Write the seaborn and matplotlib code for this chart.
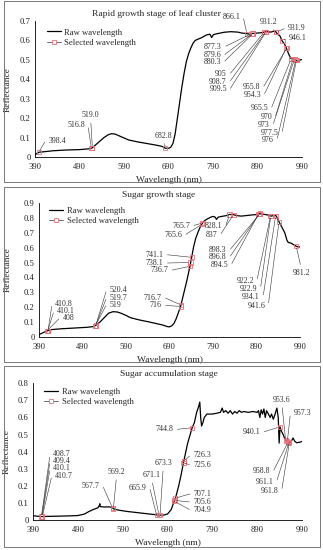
import numpy as np
import pandas as pd
import matplotlib
matplotlib.use("Agg")
import matplotlib.pyplot as plt
import seaborn as sns
from matplotlib.lines import Line2D
from matplotlib.patches import Rectangle

# ---- data: panel 1 (rapid growth stage of leaf cluster) ----
wl1 = [390, 395, 400, 410, 430, 460, 490, 510, 517, 519, 525, 535, 545, 555, 562, 570,
       580, 590, 600, 620, 640, 660, 675, 683, 690, 695, 700, 705, 710, 715, 720, 725,
       730, 735, 740, 745, 750, 755, 765, 775, 783, 787, 791, 800, 815, 830, 845, 855,
       866, 872, 877, 880, 890, 900, 905, 910, 920, 926, 931, 936, 940, 946, 950, 955,
       960, 965, 970, 975, 978, 982, 986, 990]
refl1 = [0.01, 0.02, 0.025, 0.027, 0.032, 0.036, 0.038, 0.042, 0.045, 0.048, 0.06, 0.08,
         0.1, 0.115, 0.12, 0.118, 0.108, 0.098, 0.088, 0.078, 0.07, 0.062, 0.055, 0.045,
         0.045, 0.05, 0.07, 0.12, 0.2, 0.28, 0.36, 0.43, 0.49, 0.53, 0.56, 0.585, 0.6,
         0.605, 0.615, 0.628, 0.632, 0.615, 0.63, 0.635, 0.642, 0.645, 0.643, 0.638,
         0.635, 0.632, 0.636, 0.636, 0.638, 0.64, 0.643, 0.645, 0.643, 0.647, 0.645,
         0.63, 0.625, 0.595, 0.585, 0.56, 0.53, 0.507, 0.505, 0.5, 0.497, 0.49, 0.5, 0.502]
lab1 = ["398.4", "516.8", "519.0", "682.8", "866.1", "877.3", "879.6", "880.3", "905",
        "908.7", "909.5", "931.2", "931.9", "946.1", "955.8", "954.3", "965.5", "970",
        "973", "977.5", "976"]
sel_wl1 = [398.4, 516.8, 519.0, 682.8, 866.1, 877.3, 879.6, 880.3, 905, 908.7, 909.5,
           931.2, 931.9, 946.1, 955.8, 954.3, 965.5, 970, 973, 977.5, 976]
sel_refl1 = [0.025, 0.045, 0.048, 0.045, 0.635, 0.636, 0.636, 0.636, 0.643, 0.645, 0.645,
             0.645, 0.643, 0.595, 0.56, 0.56, 0.505, 0.505, 0.503, 0.498, 0.5]

# ---- data: panel 2 (sugar growth stage) ----
wl2 = [390, 400, 408, 411, 420, 440, 470, 500, 515, 520, 530, 540, 550, 560, 570, 580,
       590, 600, 620, 640, 660, 675, 685, 690, 695, 700, 705, 710, 716, 720, 725, 730,
       737, 741, 745, 750, 755, 760, 765.7, 770, 775, 785, 790, 795, 798, 802, 810, 820,
       828, 837, 845, 855, 865, 880, 890, 897, 905, 915, 923, 930, 935, 942, 948, 955,
       960, 963, 970, 975, 981, 985, 990]
refl2 = [0.016, 0.03, 0.04, 0.043, 0.05, 0.055, 0.06, 0.065, 0.07, 0.077, 0.1, 0.13, 0.16,
         0.17, 0.168, 0.158, 0.145, 0.13, 0.115, 0.103, 0.09, 0.08, 0.07, 0.068, 0.075,
         0.09, 0.12, 0.16, 0.21, 0.26, 0.32, 0.38, 0.475, 0.535, 0.6, 0.66, 0.7, 0.735,
         0.765, 0.78, 0.79, 0.805, 0.81, 0.805, 0.79, 0.805, 0.81, 0.815, 0.823, 0.822,
         0.815, 0.812, 0.815, 0.82, 0.822, 0.828, 0.825, 0.82, 0.812, 0.815, 0.815, 0.772,
         0.74, 0.7, 0.65, 0.635, 0.63, 0.62, 0.61, 0.605, 0.605]
lab2 = ["408", "410.1", "410.8", "519", "519.7", "520.4", "716", "716.7", "736.7", "738.1",
        "741.1", "765.6", "765.7", "828.1", "837", "894.5", "896.8", "898.3", "922.2",
        "922.9", "934.1", "941.6", "981.2"]
sel_wl2 = [408, 410.1, 410.8, 519, 519.7, 520.4, 716, 716.7, 736.7, 738.1, 741.1, 765.6,
           765.7, 828.1, 837, 894.5, 896.8, 898.3, 922.2, 922.9, 934.1, 941.6, 981.2]
sel_refl2 = [0.04, 0.042, 0.043, 0.073, 0.075, 0.077, 0.205, 0.215, 0.475, 0.5, 0.535,
             0.758, 0.765, 0.823, 0.822, 0.826, 0.828, 0.829, 0.812, 0.812, 0.815, 0.772,
             0.61]

# ---- data: panel 3 (sugar accumulation stage) ----
wl3 = [390, 400, 410, 420, 440, 470, 490, 505, 515, 525, 535, 538, 539, 540, 550, 560,
       567, 570, 580, 600, 620, 640, 660, 670, 680, 690, 698, 705, 708, 715, 720, 726,
       735, 745, 750, 755, 759, 762, 764, 766, 769, 772, 778, 790, 800, 808, 812, 815,
       820, 825, 830, 835, 840, 845, 850, 855, 860, 870, 880, 890, 893, 896, 899, 902,
       905, 908, 911, 915, 919, 922, 926, 930, 934, 937, 939, 941, 944, 948, 953, 957,
       960, 963, 967, 970, 974, 978, 985, 990]
refl3 = [0.025, 0.022, 0.02, 0.021, 0.022, 0.024, 0.026, 0.035, 0.05, 0.062, 0.072, 0.085,
         0.095, 0.078, 0.076, 0.077, 0.072, 0.065, 0.058, 0.05, 0.044, 0.038, 0.032, 0.028,
         0.028, 0.035, 0.06, 0.11, 0.13, 0.2, 0.26, 0.34, 0.45, 0.54, 0.57, 0.63, 0.66,
         0.69, 0.6, 0.55, 0.57, 0.6, 0.62, 0.62, 0.625, 0.63, 0.655, 0.63, 0.64, 0.625,
         0.64, 0.62, 0.635, 0.625, 0.64, 0.63, 0.635, 0.63, 0.635, 0.63, 0.64, 0.6, 0.645,
         0.62, 0.65, 0.6, 0.64, 0.62, 0.6, 0.62, 0.59, 0.62, 0.655, 0.6, 0.45, 0.545, 0.52,
         0.5, 0.465, 0.46, 0.455, 0.45, 0.465, 0.48, 0.46, 0.452, 0.455, 0.46]
lab3 = ["408.7", "409.4", "410.1", "410.7", "567.7", "569.2", "665.9", "671.1", "673.3",
        "704.9", "705.6", "707.1", "725.6", "726.3", "744.8", "940.1", "953.6", "957.3",
        "958.8", "961.1", "961.8"]
sel_wl3 = [408.7, 409.4, 410.1, 410.7, 567.7, 569.2, 665.9, 671.1, 673.3, 704.9, 705.6,
           707.1, 725.6, 726.3, 744.8, 940.1, 953.6, 957.3, 958.8, 961.1, 961.8]
sel_refl3 = [0.02, 0.02, 0.02, 0.02, 0.068, 0.066, 0.028, 0.028, 0.028, 0.11, 0.115, 0.128,
             0.335, 0.345, 0.54, 0.545, 0.465, 0.46, 0.455, 0.455, 0.452]

titles = ["Rapid growth stage of leaf cluster", "Sugar growth stage", "Sugar accumulation stage"]
ymax = [0.7, 0.9, 0.8]
xticks = [390, 490, 590, 690, 790, 890, 990]

# ---- layout: label text positions (x, y in data units, side of the point) ----
pos1 = [(420, 0.082, "l"), (502, 0.163, "r"), (515, 0.196, "b"), (678, 0.09, "b"),
        (851, 0.722, "r"), (810, 0.568, "r"), (808, 0.525, "r"), (808, 0.49, "r"),
        (821, 0.427, "r"), (821, 0.388, "r"), (821, 0.348, "r"), (914, 0.674, "b"),
        (959, 0.662, "l"), (960, 0.611, "l"), (896, 0.359, "r"), (898, 0.319, "r"),
        (914, 0.25, "r"), (923, 0.204, "r"), (918, 0.165, "r"), (938, 0.122, "r"),
        (927, 0.0875, "r")]
pos2 = [(444.5, 0.128, "l"), (431, 0.172, "l"), (427, 0.222, "l"), (552, 0.217, "l"),
        (552, 0.262, "l"), (552, 0.314, "l"), (672, 0.213, "r"), (672, 0.264, "r"),
        (687, 0.448, "r"), (676, 0.497, "r"), (676, 0.553, "r"), (719, 0.687, "r"),
        (737, 0.748, "r"), (812, 0.743, "r"), (800, 0.687, "r"), (825, 0.486, "r"),
        (821.5, 0.537, "r"), (821.5, 0.584, "r"), (884, 0.378, "r"), (892, 0.322, "r"),
        (898, 0.267, "r"), (910, 0.21, "r"), (993, 0.46, "t")]
pos3 = [(434.7, 0.384, "l"), (434.7, 0.345, "l"), (434.7, 0.302, "l"), (438.5, 0.257, "l"),
        (539, 0.199, "r"), (576.5, 0.259, "b"), (643.5, 0.189, "r"), (654.7, 0.24, "b"),
        (680.6, 0.31, "b"), (747.7, 0.0585, "l"), (747.7, 0.105, "l"), (749, 0.154, "l"),
        (747.7, 0.322, "l"), (747.7, 0.378, "l"), (703, 0.53, "r"), (897, 0.515, "r"),
        (945, 0.68, "b"), (971, 0.628, "l"), (919, 0.285, "r"), (926.5, 0.225, "r"),
        (937.7, 0.17, "r")]

sns.set_theme(style="white")
plt.rcParams["font.family"] = ["Liberation Serif", "DejaVu Serif"]

RED = "#E8707A"
fig = plt.figure(figsize=(3.23, 5.5), dpi=100)
W, H = 323, 550

# axes boxes in pixels: left, top, right, bottom
boxes = [(35, 21, 302, 157), (39, 203, 300, 337), (33, 383.3, 302, 520)]
frames = [(4, 1, 320, 182), (4, 187, 320, 362), (4, 366, 320, 547)]
title_xy = [(156, 14), (159, 195), (169, 374)]
legend_xy = [(0.045, 0.945), (0.04, 0.972), (0.042, 0.968)]
ylab_x = [-0.086, -0.105, -0.083]

panels = [(wl1, refl1, sel_wl1, sel_refl1, lab1, pos1),
          (wl2, refl2, sel_wl2, sel_refl2, lab2, pos2),
          (wl3, refl3, sel_wl3, sel_refl3, lab3, pos3)]


def add_labels(ax, labels, xs, ys, pos):
    for lab, x, y, (tx, ty, side) in zip(labels, xs, ys, pos):
        if side == "r":
            ha, va, rel, cs = "right", "center", (1, 0.5), "arc,angleA=0,armA=3,rad=0"
        elif side == "l":
            ha, va, rel, cs = "left", "center", (0, 0.5), "arc,angleA=180,armA=3,rad=0"
        elif side == "b":
            ha, va, rel, cs = "center", "bottom", (0.5, 0), "arc3"
        else:
            ha, va, rel, cs = "center", "top", (0.5, 1), "arc3"
        ax.annotate(lab, xy=(x, y), xytext=(tx, ty), textcoords="data", ha=ha, va=va,
                    fontsize=5.7, color="#333333", annotation_clip=False,
                    arrowprops=dict(arrowstyle="-", color="#333333", lw=0.4,
                                    shrinkA=0.5, shrinkB=1.5, relpos=rel,
                                    connectionstyle=cs))


for i, (wl, refl, swl, srefl, labs, pos) in enumerate(panels):
    l, t, r, b = boxes[i]
    ax = fig.add_axes([l / W, 1 - b / H, (r - l) / W, (b - t) / H])
    fl, ft, fr, fb = frames[i]
    fig.add_artist(Rectangle((fl / W, 1 - fb / H), (fr - fl) / W, (fb - ft) / H,
                             transform=fig.transFigure, fill=False, ec="#777777", lw=0.7))

    df = pd.DataFrame({"wl": wl, "refl": refl})
    sns.lineplot(data=df, x="wl", y="refl", color="black", lw=0.9, ax=ax, legend=False)
    sel = pd.DataFrame({"wl": swl, "refl": srefl})
    sns.scatterplot(data=sel, x="wl", y="refl", marker="s", s=9, facecolor="none",
                    edgecolor=RED, linewidth=0.6, ax=ax, zorder=3, legend=False)
    add_labels(ax, labs, swl, srefl, pos)

    ax.set_xlim(390, 990)
    ax.set_ylim(0, ymax[i])
    ax.set_xticks(xticks)
    yt = np.round(np.arange(0, ymax[i] + 0.001, 0.1), 1)
    ax.set_yticks(yt)
    ax.set_yticklabels(["0" if v == 0 else f"{v:.1f}" for v in yt])
    ax.tick_params(axis="both", labelsize=6.2, direction="in", length=2, width=0.5,
                   pad=3, colors="#222222")
    ax.tick_params(axis="x", pad=4)
    for s in ["top", "right"]:
        ax.spines[s].set_visible(False)
    for s in ["left", "bottom"]:
        ax.spines[s].set_color("black")
        ax.spines[s].set_linewidth(0.6)

    ax.set_xlabel("Wavelength (nm)", fontsize=6.8)
    ax.xaxis.set_label_coords(0.5, -0.14)
    ax.set_ylabel("Reflectance", fontsize=6.8)
    ax.yaxis.set_label_coords(ylab_x[i], 0.5)

    fig.text(title_xy[i][0] / W, 1 - title_xy[i][1] / H, titles[i], fontsize=6.8,
             ha="center", va="center")

    handles = [Line2D([], [], color="black", lw=0.9),
               Line2D([], [], color="#555555", lw=0.6, marker="s", markersize=2.8,
                      markerfacecolor="white", markeredgecolor=RED, markeredgewidth=0.6)]
    ax.legend(handles, ["Raw wavelength", "Selected wavelength"], loc="upper left",
              bbox_to_anchor=legend_xy[i], borderaxespad=0, borderpad=0, frameon=False,
              fontsize=6.2, handlelength=1.6, handletextpad=0.4, labelspacing=0.25)

fig.savefig("out.png", dpi=100)
